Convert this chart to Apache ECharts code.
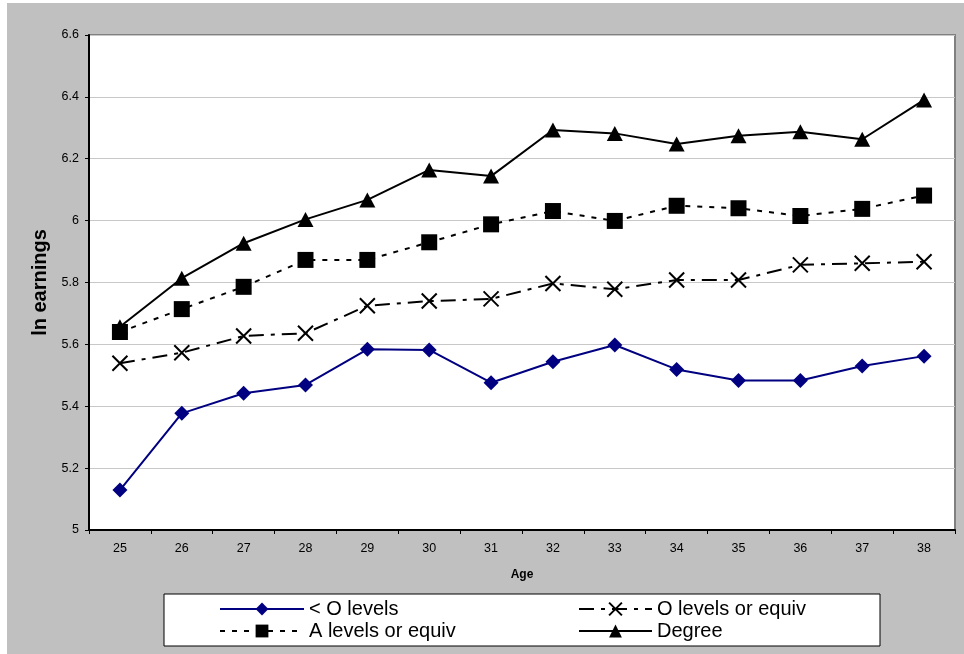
<!DOCTYPE html>
<html>
<head>
<meta charset="utf-8">
<title>ln earnings by age and qualification</title>
<script src="https://cdn.jsdelivr.net/npm/echarts@6/dist/echarts.min.js"></script>
<style>
  html, body { margin: 0; padding: 0; background: #ffffff; }
  #chart { position: absolute; left: 7px; top: 3px; width: 957px; height: 651px; }
</style>
</head>
<body>
<div id="chart"></div>
<script>
// Age categories on the x axis
const ages = ['25', '26', '27', '28', '29', '30', '31', '32', '33', '34', '35', '36', '37', '38'];

// Mean log earnings by highest qualification
const belowOLevels = [5.129, 5.377, 5.442, 5.469, 5.584, 5.582, 5.476, 5.544, 5.598, 5.519, 5.483, 5.483, 5.530, 5.562];
const oLevels      = [5.539, 5.573, 5.627, 5.636, 5.725, 5.740, 5.747, 5.797, 5.778, 5.808, 5.808, 5.857, 5.862, 5.867];
const aLevels      = [5.640, 5.714, 5.786, 5.873, 5.873, 5.930, 5.988, 6.031, 5.999, 6.048, 6.040, 6.015, 6.038, 6.081];
const degree       = [5.657, 5.814, 5.927, 6.004, 6.067, 6.164, 6.144, 6.293, 6.282, 6.248, 6.274, 6.287, 6.263, 6.390];

// Series names and y-axis range
const seriesNames = ['< O levels', 'O levels or equiv', 'A levels or equiv', 'Degree'];
const yMin = 5, yMax = 6.6, yStep = 0.2;

const FONT = "'Liberation Sans', Arial, sans-serif";
const CROSS = 'path://M0,0L10,10M0,10L10,0';

const chart = echarts.init(document.getElementById('chart'), null, { renderer: 'canvas' });

const legendText = { fontSize: 20, lineHeight: 20, color: '#000', fontFamily: FONT };

chart.setOption({
  animation: false,
  backgroundColor: '#C0C0C0',
  textStyle: { fontFamily: FONT },
  grid: {
    left: 82, top: 32, right: 9, bottom: 124,
    show: true,
    backgroundColor: '#ffffff',
    borderColor: '#808080',
    borderWidth: 2
  },
  graphic: [{
    type: 'rect',
    z: 0,
    shape: { x: 157, y: 591, width: 716, height: 52 },
    style: { fill: '#ffffff', stroke: '#000000', lineWidth: 1 }
  }],
  legend: [{
    data: [seriesNames[0], seriesNames[2]],
    orient: 'vertical',
    left: 212, top: 596,
    itemWidth: 84, itemHeight: 16, itemGap: 2,
    padding: 0,
    textStyle: legendText
  }, {
    data: [seriesNames[1], seriesNames[3]],
    orient: 'vertical',
    left: 571, top: 596,
    itemWidth: 73, itemHeight: 16, itemGap: 2,
    padding: 0,
    textStyle: legendText
  }],
  xAxis: {
    type: 'category',
    data: ages,
    boundaryGap: true,
    name: 'Age',
    nameLocation: 'middle',
    nameGap: 39,
    nameTextStyle: { fontSize: 12, fontWeight: 'bold', color: '#000', fontFamily: FONT },
    axisLine: { lineStyle: { color: '#000', width: 2 } },
    axisTick: { show: true, length: 4, lineStyle: { color: '#000', width: 1 } },
    axisLabel: { fontSize: 12.5, color: '#000', margin: 12, fontFamily: FONT },
    splitLine: { show: false }
  },
  yAxis: {
    type: 'value',
    min: yMin, max: yMax, interval: yStep,
    name: 'ln earnings',
    nameLocation: 'middle',
    nameGap: 38,
    nameRotate: 90,
    nameTextStyle: { fontSize: 20, fontWeight: 'bold', color: '#000', fontFamily: FONT },
    axisLine: { show: true, lineStyle: { color: '#000', width: 2 } },
    axisTick: { show: true, length: 4, lineStyle: { color: '#000', width: 1 } },
    axisLabel: {
      fontSize: 12.5, color: '#000', margin: 10, fontFamily: FONT,
      formatter: v => String(parseFloat(v.toFixed(1)))
    },
    splitLine: { show: true, lineStyle: { color: '#C8C8C8', width: 1 } }
  },
  series: [{
    name: seriesNames[0],
    type: 'line',
    data: belowOLevels,
    symbol: 'diamond',
    symbolSize: 15,
    showAllSymbol: true,
    itemStyle: { color: '#000080' },
    lineStyle: { color: '#000080', width: 2, type: 'solid' },
    z: 3
  }, {
    name: seriesNames[1],
    type: 'line',
    data: oLevels,
    symbol: CROSS,
    symbolSize: 15,
    showAllSymbol: true,
    itemStyle: { color: 'rgba(0,0,0,0)', borderColor: '#000', borderWidth: 2 },
    lineStyle: { color: '#000', width: 2, type: [15, 7, 4, 7] },
    z: 3
  }, {
    name: seriesNames[2],
    type: 'line',
    data: aLevels,
    symbol: 'rect',
    symbolSize: 16,
    showAllSymbol: true,
    itemStyle: { color: '#000' },
    lineStyle: { color: '#000', width: 2, type: [5, 7] },
    z: 3
  }, {
    name: seriesNames[3],
    type: 'line',
    data: degree,
    symbol: 'triangle',
    symbolSize: [16, 15],
    showAllSymbol: true,
    itemStyle: { color: '#000' },
    lineStyle: { color: '#000', width: 2, type: 'solid' },
    z: 3
  }]
});
</script>
</body>
</html>
